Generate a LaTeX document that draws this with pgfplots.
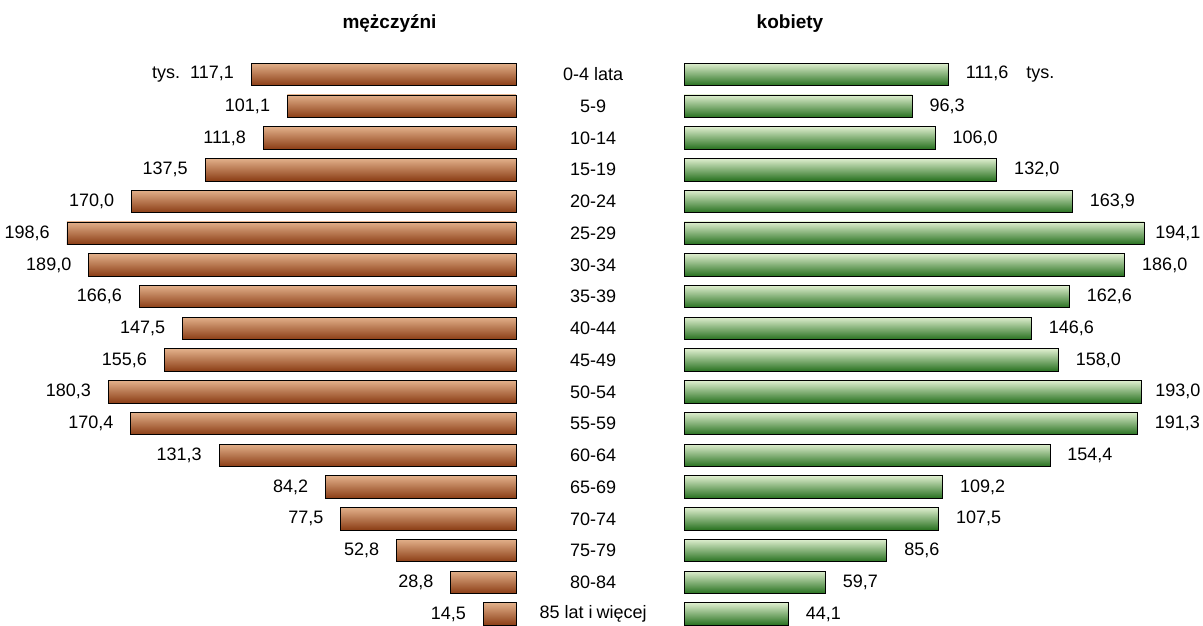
\documentclass[border=0pt]{standalone}
\usepackage{pgfplots}
\pgfplotsset{compat=1.18}
\usepackage{pgfplotstable}
\usepackage{fontspec}
\setmainfont{Liberation Sans}
\definecolor{browntop}{RGB}{226,176,138}
\definecolor{brownbot}{RGB}{138,60,20}
\definecolor{greentop}{RGB}{222,238,206}
\definecolor{greenbot}{RGB}{38,112,30}

\pgfplotstableread{
y val lab
0 117.1 {tys.\hspace{10pt}117,1}
1 101.1 {101,1}
2 111.8 {111,8}
3 137.5 {137,5}
4 170.0 {170,0}
5 198.6 {198,6\hspace{-7pt}}
6 189.0 {189,0}
7 166.6 {166,6}
8 147.5 {147,5}
9 155.6 {155,6}
10 180.3 {180,3}
11 170.4 {170,4}
12 131.3 {131,3}
13 84.2 {84,2}
14 77.5 {77,5}
15 52.8 {52,8}
16 28.8 {28,8}
17 14.5 {14,5}
}\men

\pgfplotstableread{
y val lab
0 111.6 {111,6\hspace{18pt}tys.}
1 96.3 {96,3}
2 106.0 {106,0}
3 132.0 {132,0}
4 163.9 {163,9}
5 194.1 {\hspace{-6pt}194,1}
6 186.0 {186,0}
7 162.6 {162,6}
8 146.6 {146,6}
9 158.0 {158,0}
10 193.0 {\hspace{-3.5pt}193,0}
11 191.3 {191,3}
12 154.4 {154,4}
13 109.2 {109,2}
14 107.5 {107,5}
15 85.6 {85,6}
16 59.7 {59,7}
17 44.1 {44,1}
}\women

\begin{document}
\begin{tikzpicture}[font=\fontsize{18}{21}\selectfont]
\useasboundingbox (0,0) rectangle (1203pt,626pt);

\begin{axis}[
  at={(516pt,567.4pt)}, anchor=north east,
  scale only axis, width=497.4pt, height=571.3pt,
  x dir=reverse, y dir=reverse,
  xmin=0, xmax=220, ymin=-0.5, ymax=17.5,
  hide axis, clip=false,
  xbar, bar width=22.5pt,
  point meta=explicit symbolic,
  nodes near coords,
  every node near coord/.append style={anchor=east, inner sep=0pt, xshift=-17pt, font=\fontsize{18}{21}\selectfont, text=black},
]
\pgfplotsinvokeforeach{0,...,17}{
\addplot[xbar, bar shift=0pt, draw=black, line width=0.8pt, top color=browntop, bottom color=brownbot,
  restrict expr to domain={\coordindex}{#1:#1}]
  table[x=val, y=y, meta=lab] {\men};
}
\end{axis}

\begin{axis}[
  at={(684pt,567.4pt)}, anchor=north west,
  scale only axis, width=521.4pt, height=571.3pt,
  y dir=reverse,
  xmin=0, xmax=220, ymin=-0.5, ymax=17.5,
  hide x axis, axis y line*=left,
  y axis line style={draw=none},
  ytick={0,...,17}, ytick style={draw=none},
  yticklabels={0-4 lata,5-9,10-14,15-19,20-24,25-29,30-34,35-39,40-44,45-49,50-54,55-59,60-64,65-69,70-74,75-79,80-84,85 lat i\hspace{4pt}więcej},
  yticklabel style={anchor=center, xshift=-86.5pt, font=\fontsize{18}{21}\selectfont},
  clip=false,
  xbar, bar width=22.5pt,
  point meta=explicit symbolic,
  nodes near coords,
  every node near coord/.append style={anchor=west, inner sep=0pt, xshift=17pt, font=\fontsize{18}{21}\selectfont, text=black},
]
\pgfplotsinvokeforeach{0,...,17}{
\addplot[xbar, bar shift=0pt, draw=black, line width=0.8pt, top color=greentop, bottom color=greenbot,
  restrict expr to domain={\coordindex}{#1:#1}]
  table[x=val, y=y, meta=lab] {\women};
}
\end{axis}

\node[font=\fontsize{19}{22}\selectfont\bfseries] at (389.5pt,602pt) {mężczyźni};
\node[font=\fontsize{19}{22}\selectfont\bfseries] at (790pt,602pt) {kobiety};
\end{tikzpicture}
\end{document}
